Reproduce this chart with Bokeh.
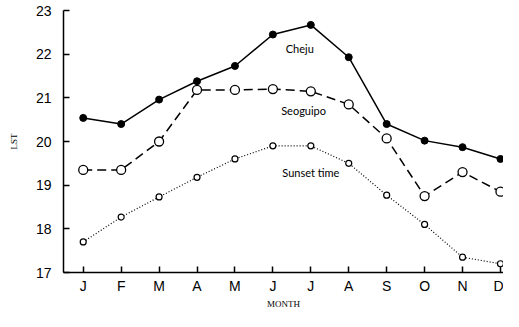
from bokeh.plotting import figure
from bokeh.models import FixedTicker, ColumnDataSource, Label
from bokeh.embed import file_html
from bokeh.resources import INLINE

months = ["J", "F", "M", "A", "M", "J", "J", "A", "S", "O", "N", "D"]
month_idx = list(range(12))
cheju = [20.54, 20.4, 20.96, 21.38, 21.73, 22.45, 22.67, 21.93, 20.4, 20.02, 19.87, 19.6]
seoguipo = [19.35, 19.35, 20.0, 21.18, 21.18, 21.2, 21.15, 20.85, 20.07, 18.75, 19.3, 18.85]
sunset = [17.7, 18.27, 18.73, 19.18, 19.6, 19.9, 19.9, 19.5, 18.77, 18.1, 17.35, 17.2]
y_ticks = [17, 18, 19, 20, 21, 22, 23]

p = figure(width=503, height=311, output_backend="svg", toolbar_location=None,
           x_range=(-0.52, 11.08), y_range=(17, 23),
           min_border_left=63, min_border_right=0, min_border_top=10, min_border_bottom=34)
p.outline_line_color = None
p.grid.visible = False
p.background_fill_color = "white"
p.border_fill_color = "white"

src = ColumnDataSource(dict(x=month_idx, cheju=cheju, seo=seoguipo, sun=sunset))

p.line("x", "cheju", source=src, line_color="black", line_width=1.5)
p.scatter("x", "cheju", source=src, size=7, fill_color="black", line_color="black")

p.line("x", "seo", source=src, line_color="black", line_width=1.5, line_dash="9 5")
p.scatter("x", "seo", source=src, size=9, fill_color="white", line_color="black", line_width=1.3)

p.line("x", "sun", source=src, line_color="black", line_width=1.2, line_dash="1 2")
p.scatter("x", "sun", source=src, size=6, fill_color="white", line_color="black", line_width=1.2)

for txt, xx, yy in [("Cheju", 5.71, 22.12), ("Seoguipo", 5.81, 20.72), ("Sunset time", 6.0, 19.3)]:
    p.add_layout(Label(x=xx, y=yy, text=txt, text_align="center", text_baseline="middle",
                       text_font="Lato", text_font_size="11px", text_color="black"))

p.xaxis.ticker = FixedTicker(ticks=month_idx)
p.xaxis.major_label_overrides = {i: m for i, m in enumerate(months)}
p.yaxis.ticker = FixedTicker(ticks=y_ticks)

for ax in (p.xaxis[0], p.yaxis[0]):
    ax.axis_line_color = "black"
    ax.axis_line_width = 1.5
    ax.major_tick_line_color = "black"
    ax.major_tick_line_width = 1.5
    ax.major_tick_in = 6
    ax.major_tick_out = 0
    ax.minor_tick_line_color = None
    ax.major_label_text_font = "Liberation Sans"
    ax.major_label_text_font_size = "14px"
    ax.major_label_text_color = "black"
    ax.axis_label_text_font = "Liberation Serif"
    ax.axis_label_text_font_style = "normal"
    ax.axis_label_text_font_size = "9px"
    ax.axis_label_text_color = "black"

p.xaxis.major_label_standoff = 5
p.yaxis.major_label_standoff = 12
p.xaxis.axis_label = "MONTH"
p.xaxis.axis_label_standoff = 2
p.yaxis.axis_label = "LST"
p.yaxis.axis_label_standoff = 14

open("out.html", "w").write(file_html(p, INLINE))
